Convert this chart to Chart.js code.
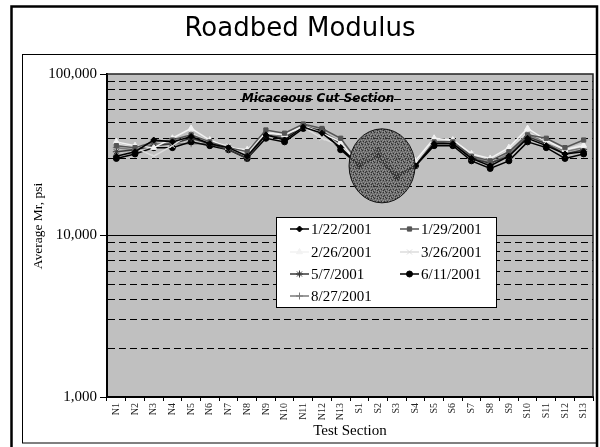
<!DOCTYPE html>
<html>
<head>
<meta charset="utf-8">
<script src="https://cdn.jsdelivr.net/npm/chart.js@4.4.0/dist/chart.umd.min.js"></script>
<style>
html, body { margin: 0; padding: 0; background: #fff; }
#wrap { width: 600px; height: 447px; }
</style>
</head>
<body>
<div id="wrap"><canvas id="modulusChart" width="600" height="447"></canvas></div>
<script>
// Test sections along the x axis
const sections = ['N1', 'N2', 'N3', 'N4', 'N5', 'N6', 'N7', 'N8', 'N9', 'N10', 'N11', 'N12', 'N13',
                  'S1', 'S2', 'S3', 'S4', 'S5', 'S6', 'S7', 'S8', 'S9', 'S10', 'S11', 'S12', 'S13'];

// Log axis ticks (labels only on the decades)
const yTickValues = [1000, 2000, 3000, 4000, 5000, 6000, 7000, 8000, 9000,
                     10000, 20000, 30000, 40000, 50000, 60000, 70000, 80000, 90000, 100000];

// Average Mr, psi per test date
const mr_0122 = [31000, 33000, 39000, 38000, 41000, 37000, 35000, 31000, 42000, 39000, 47000, 43000, 35000,
                 27000, 31000, 23000, 27000, 37000, 37000, 30000, 27000, 31000, 40000, 36000, 32000, 33000];
const mr_0129 = [36000, 35000, 38000, 39000, 42000, 38000, 35000, 33000, 45000, 43000, 49000, 46000, 40000,
                 28000, 34000, 24000, 27000, 38000, 38000, 31000, 29000, 33000, 42000, 40000, 35000, 39000];
const mr_0226 = [38000, 36000, 35000, 40000, 46000, 39000, 35000, 34000, 43000, 42000, 48000, 43000, 38000,
                 27000, 30000, 24000, 29000, 40000, 39000, 32000, 30000, 35000, 46000, 39000, 34000, 36000];
const mr_0326 = [37000, 35000, 31000, 36000, 43000, 38000, 36000, 32000, 44000, 42000, 47000, 40000, 36000,
                 28000, 32000, 24000, 28000, 39000, 39000, 32000, 29000, 34000, 44000, 38000, 34000, 37000];
const mr_0507 = [33000, 34000, 36000, 37000, 40000, 37000, 34000, 30000, 42000, 40000, 48000, 44000, 37000,
                 27000, 32000, 23000, 28000, 38000, 37000, 30000, 28000, 31000, 41000, 37000, 32000, 34000];
const mr_0611 = [30000, 32000, 35000, 35000, 38000, 36000, 34000, 30000, 40000, 38000, 46000, 45000, 34000,
                 27000, 30000, 23000, 27000, 36000, 36000, 29000, 26000, 29000, 38000, 35000, 30000, 32000];
const mr_0827 = [35000, 34000, 37000, 37000, 37000, 37000, 35000, 31000, 43000, 41000, 47000, 44000, 38000,
                 27000, 33000, 24000, 28000, 39000, 38000, 31000, 28000, 32000, 42000, 38000, 33000, 35000];

const seriesLabels = ['1/22/2001', '1/29/2001', '2/26/2001', '3/26/2001', '5/7/2001', '6/11/2001', '8/27/2001'];
const seriesData = [mr_0122, mr_0129, mr_0226, mr_0326, mr_0507, mr_0611, mr_0827];
const seriesStyle = [
    { color: '#000000', point: 'rectRot', radius: 3 },
    { color: '#555555', point: 'rect', radius: 3 },
    { color: '#f2f2f2', point: 'triangle', radius: 3.5 },
    { color: '#dcdcdc', point: 'crossRot', radius: 3.5 },
    { color: '#383838', point: 'star', radius: 3.5 },
    { color: '#000000', point: 'circle', radius: 3 },
    { color: '#7a7a7a', point: 'cross', radius: 3.5 }
];

const serif = '"Liberation Serif", "Times New Roman", serif';
const comic = '"Comic Sans MS", "DejaVu Sans", sans-serif';

function isDecade(v) {
    return v === 1000 || v === 10000 || v === 100000;
}

// frames, plot background, titles, plot border
const framePlugin = {
    id: 'framePlugin',
    beforeDraw(chart) {
        const ctx = chart.ctx;
        const a = chart.chartArea;
        ctx.save();
        ctx.fillStyle = '#ffffff';
        ctx.fillRect(0, 0, chart.width, chart.height);
        ctx.strokeStyle = '#000';
        ctx.lineWidth = 2.5;
        ctx.strokeRect(11.5, 6.5, 585.5, 445);
        ctx.lineWidth = 1;
        ctx.strokeRect(22.5, 54.5, 574, 388.5);
        ctx.fillStyle = '#c0c0c0';
        ctx.fillRect(a.left, a.top, a.right - a.left, a.bottom - a.top);
        ctx.fillStyle = '#000';
        ctx.font = '26px ' + comic;
        ctx.textAlign = 'center';
        ctx.textBaseline = 'middle';
        ctx.fillText('Roadbed Modulus', 300, 29);
        // y axis title
        ctx.translate(38, 226);
        ctx.rotate(-Math.PI / 2);
        ctx.font = '13.5px ' + serif;
        ctx.fillText('Average Mr, psi', 0, 0);
        ctx.restore();
    },
    afterDraw(chart) {
        const ctx = chart.ctx;
        const a = chart.chartArea;
        ctx.save();
        ctx.strokeStyle = '#222';
        ctx.lineWidth = 1.5;
        ctx.beginPath();
        ctx.moveTo(a.left, a.top);
        ctx.lineTo(a.right, a.top);
        ctx.lineTo(a.right, a.bottom);
        ctx.stroke();
        ctx.restore();
    }
};

// shaded circle over S1-S4 and the section note
const notePlugin = {
    id: 'notePlugin',
    afterDatasetsDraw(chart) {
        const ctx = chart.ctx;
        const xs = chart.scales.x;
        const ys = chart.scales.y;
        ctx.save();
        const tile = document.createElement('canvas');
        tile.width = 6; tile.height = 6;
        const tctx = tile.getContext('2d');
        tctx.fillStyle = 'rgba(80,80,80,0.74)';
        tctx.fillRect(0, 0, 6, 6);
        tctx.fillStyle = 'rgba(165,165,165,0.7)';
        [[0, 0], [3, 1], [1, 2], [5, 2], [2, 4], [4, 3], [0, 5], [4, 5]].forEach(p => tctx.fillRect(p[0], p[1], 1, 1));
        tctx.fillStyle = 'rgba(30,30,30,0.75)';
        [[2, 0], [5, 0], [0, 3], [3, 3], [1, 5], [5, 4]].forEach(p => tctx.fillRect(p[0], p[1], 1, 1));
        const cx = xs.getPixelForValue(sections.indexOf('S2')) + 4;
        const cy = ys.getPixelForValue(27000);
        ctx.beginPath();
        ctx.ellipse(cx, cy, 33, 37, 0, 0, Math.PI * 2);
        ctx.fillStyle = ctx.createPattern(tile, 'repeat');
        ctx.fill();
        ctx.strokeStyle = '#111';
        ctx.lineWidth = 1;
        ctx.stroke();
        ctx.fillStyle = '#000';
        ctx.font = 'italic bold 12px ' + comic;
        ctx.textAlign = 'center';
        ctx.textBaseline = 'middle';
        ctx.fillText('Micaceous Cut Section', 318, 99);
        ctx.restore();
    }
};

// boxed legend inside the plot
const legendBoxPlugin = {
    id: 'legendBoxPlugin',
    afterDatasetsDraw(chart) {
        const ctx = chart.ctx;
        const colX = [290, 400];
        const rowY = [229, 252, 274, 296];
        ctx.save();
        ctx.fillStyle = '#fff';
        ctx.fillRect(276, 217, 220, 90);
        ctx.strokeStyle = '#000';
        ctx.lineWidth = 1;
        ctx.strokeRect(276.5, 217.5, 220, 90);
        chart.data.datasets.forEach((ds, i) => {
            const x = colX[i % 2];
            const y = rowY[Math.floor(i / 2)];
            ctx.strokeStyle = ds.borderColor;
            ctx.fillStyle = ds.pointBackgroundColor;
            ctx.lineWidth = 1.5;
            ctx.beginPath();
            ctx.moveTo(x, y);
            ctx.lineTo(x + 19, y);
            ctx.stroke();
            ctx.lineWidth = 1;
            Chart.helpers.drawPoint(ctx, {
                pointStyle: ds.pointStyle, radius: ds.pointRadius, rotation: 0, borderWidth: 1
            }, x + 9.5, y);
            ctx.fillStyle = '#000';
            ctx.font = '15px ' + serif;
            ctx.textAlign = 'left';
            ctx.textBaseline = 'middle';
            ctx.fillText(ds.label, x + 21, y + 1);
        });
        ctx.restore();
    }
};

const datasets = seriesLabels.map((label, i) => ({
    label: label,
    data: seriesData[i],
    borderColor: seriesStyle[i].color,
    backgroundColor: seriesStyle[i].color,
    pointBackgroundColor: seriesStyle[i].color,
    pointBorderColor: seriesStyle[i].color,
    pointStyle: seriesStyle[i].point,
    pointRadius: seriesStyle[i].radius,
    pointBorderWidth: 1,
    borderWidth: 1.5,
    tension: 0,
    fill: false
}));

const ctx = document.getElementById('modulusChart').getContext('2d');
const modulusChart = new Chart(ctx, {
    type: 'line',
    data: { labels: sections, datasets: datasets },
    plugins: [framePlugin, notePlugin, legendBoxPlugin],
    options: {
        responsive: false,
        animation: false,
        events: [],
        layout: { padding: { left: 22, right: 7, top: 74, bottom: 5 } },
        plugins: {
            legend: { display: false },
            title: { display: false },
            tooltip: { enabled: false }
        },
        scales: {
            x: {
                type: 'category',
                offset: true,
                afterFit: function(scale) { scale.height = 45; },
                grid: {
                    offset: true,
                    drawOnChartArea: false,
                    drawTicks: true,
                    tickLength: 4,
                    tickColor: '#000'
                },
                border: { color: '#000', width: 2 },
                ticks: {
                    autoSkip: false,
                    maxRotation: 90,
                    minRotation: 90,
                    padding: 2,
                    color: '#222',
                    font: { family: serif, size: 10 }
                },
                title: {
                    display: true,
                    text: 'Test Section',
                    color: '#000',
                    font: { family: serif, size: 15 },
                    padding: { top: 0, bottom: 1.6 }
                }
            },
            y: {
                type: 'logarithmic',
                min: 1000,
                max: 100000,
                afterFit: function(scale) { scale.width = 85; },
                afterBuildTicks: function(scale) {
                    scale.ticks = yTickValues.map(v => ({ value: v, major: isDecade(v) }));
                },
                grid: {
                    color: c => (c.tick && c.tick.value === 10000) ? '#000' : (c.tick && isDecade(c.tick.value) ? 'rgba(0,0,0,0)' : '#000'),
                    lineWidth: 1,
                    tickLength: 7,
                    tickColor: c => (c.tick && isDecade(c.tick.value)) ? '#000' : 'rgba(0,0,0,0)'
                },
                border: {
                    color: '#000',
                    width: 2,
                    dash: c => (c.tick && isDecade(c.tick.value)) ? [] : [7, 4]
                },
                ticks: {
                    autoSkip: false,
                    padding: 3,
                    color: '#000',
                    font: { family: serif, size: 15 },
                    callback: function(v) {
                        return isDecade(v) ? v.toLocaleString('en-US') : '';
                    }
                },
                title: { display: false }
            }
        }
    }
});
</script>
</body>
</html>
